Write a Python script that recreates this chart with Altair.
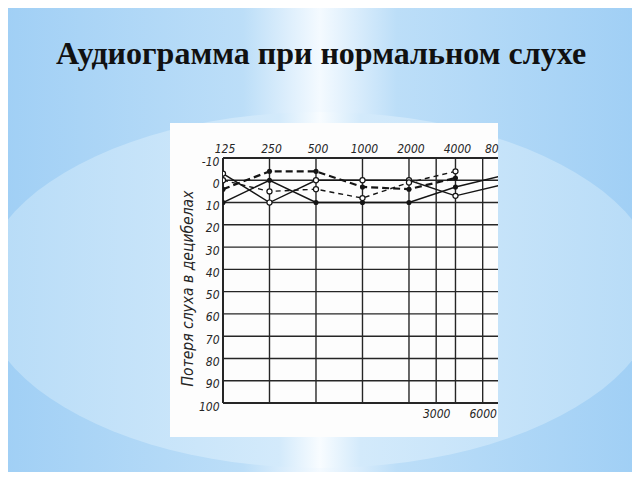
import math
import altair as alt
import pandas as pd

# ---------------- data ----------------
title_text = "Аудиограмма при нормальном слухе"
y_title = "Потеря слуха в децибелах"

freqs = [125, 250, 500, 1000, 2000, 4000, 8000]
solid_filled = [10, 0, 10, 10, 10, 3, -2]
solid_open = [-3, 10, 0, 0, 0, 7, 2]
dash_filled = [4, -4, -4, 3, 4, -1]
dash_open = [0, 5, 4, 8, 1, -4]

top_ticks = [125, 250, 500, 1000, 2000, 4000]
cut_tick = [8000]
bottom_ticks = [3000, 6000]
grid_freqs = [125, 250, 500, 1000, 2000, 3000, 4000, 6000]
db_ticks = [-10, 0, 10, 20, 30, 40, 50, 60, 70, 80, 90, 100]
x_domain = [125, 7540]  # the scanned picture is cut just before 8000 Hz
y_domain = [-10, 100]

# ---------------- layout ----------------
W, H = 275, 245
PL, PT = 215, 150
PR = 624 - PL - W
PB = 464 - PT - H
OX, OY = 8 + PL, 8 + PT


def px(x):
    return x - OX


def py(y):
    return y - OY


bg_grad = {
    "gradient": "linear", "x1": 0, "y1": 0, "x2": 1, "y2": 0,
    "stops": [
        {"offset": 0, "color": "#a0cff5"},
        {"offset": 0.38, "color": "#bcdef8"},
        {"offset": 0.5, "color": "#f4faff"},
        {"offset": 0.62, "color": "#bcdef8"},
        {"offset": 1, "color": "#a0cff5"},
    ],
}
ell_edge, ell_mid = "#b6dbf7", "#d3eafb"
ell_grad = {
    "gradient": "linear", "x1": 0, "y1": 0, "x2": 1, "y2": 0,
    "stops": [
        {"offset": 0, "color": ell_edge},
        {"offset": 0.44, "color": ell_mid},
        {"offset": 0.5, "color": "#f8fcff"},
        {"offset": 0.56, "color": ell_mid},
        {"offset": 1, "color": ell_edge},
    ],
}
ECX, ECY, EA, EB = 320, 290, 340, 178
pts = []
for i in range(96):
    t = 2 * math.pi * i / 96
    pts.append("%.4f %.4f" % (math.cos(t), math.sin(t) * EB / EA))
ellipse_path = "M " + " L ".join(pts) + " Z"

LABEL_FONT = "Liberation Sans Narrow, DejaVu Sans Condensed, sans-serif"
INK = "#262626"

xs = alt.Scale(type="log", base=2, domain=x_domain, nice=False)
ys = alt.Scale(domain=y_domain, reverse=True, nice=False, zero=False)

deco = pd.DataFrame({"k": [0]})

bg = alt.Chart(deco).mark_rect(fill=bg_grad, strokeWidth=0).encode(
    x=alt.value(px(0)), x2=alt.value(px(640)),
    y=alt.value(py(0)), y2=alt.value(py(480)))

ellipse = alt.Chart(deco).mark_point(
    shape=ellipse_path, size=(2 * EA) ** 2, filled=True, fill=ell_grad,
    opacity=1, strokeWidth=0).encode(x=alt.value(px(ECX)), y=alt.value(py(ECY)))

white_box = alt.Chart(deco).mark_rect(fill="#fdfdfd", strokeWidth=0).encode(
    x=alt.value(px(170)), x2=alt.value(px(498)),
    y=alt.value(py(123)), y2=alt.value(py(437)))

title = alt.Chart(pd.DataFrame({"t": [title_text]})).mark_text(
    font="Liberation Serif", fontSize=32, fontWeight="bold", color="#111111",
    align="center", baseline="alphabetic").encode(
    x=alt.value(px(321)), y=alt.value(py(64)), text="t:N")

vgrid = alt.Chart(pd.DataFrame({"f": grid_freqs})).mark_rule(color=INK).encode(
    x=alt.X("f:Q", scale=xs, axis=alt.Axis(
        orient="bottom", values=bottom_ticks, format="d", grid=False, domain=False,
        ticks=False, labelPadding=5, labelFont=LABEL_FONT, labelFontSize=12,
        labelFontStyle="italic", labelColor=INK, title=None, zindex=1)),
    strokeWidth=alt.condition("datum.f == 125", alt.value(2.0), alt.value(1.4)))

hgrid = alt.Chart(pd.DataFrame({"db": db_ticks})).mark_rule(color=INK).encode(
    y=alt.Y("db:Q", scale=ys, axis=alt.Axis(
        orient="left", values=db_ticks, labelExpr="'' + datum.value",
        grid=False, domain=False,
        ticks=False, labelPadding=4, labelOffset=3, labelFont=LABEL_FONT,
        labelFontSize=12, labelFontStyle="italic", labelColor=INK,
        title=y_title, titleFont=LABEL_FONT, titleFontSize=15.5,
        titleFontStyle="italic", titleFontWeight="normal", titleColor=INK,
        titleAngle=270, titleX=-36, titleY=130, titleAlign="center",
        titleBaseline="middle", zindex=1)),
    strokeWidth=alt.condition("datum.db == -10 || datum.db == 100",
                              alt.value(2.0), alt.value(1.4)))

top_labels = alt.Chart(pd.DataFrame({"f": top_ticks})).mark_text(
    font=LABEL_FONT, fontSize=12, fontStyle="italic", color=INK,
    align="center", baseline="alphabetic", dx=2).encode(
    x=alt.X("f:Q", scale=xs, axis=None), y=alt.value(-5),
    text=alt.Text("f:Q", format="d"))

cut_label = alt.Chart(pd.DataFrame({"f": cut_tick})).mark_text(
    font=LABEL_FONT, fontSize=12, fontStyle="italic", color=INK,
    align="left", baseline="alphabetic", dx=-17, limit=14,
    ellipsis="\u200b").encode(
    x=alt.X("f:Q", scale=xs, axis=None), y=alt.value(-5),
    text=alt.Text("f:Q", format="d"))

series = [
    ("solid_filled", solid_filled, [], 1.5, True),
    ("solid_open", solid_open, [], 1.4, False),
    ("dash_filled", dash_filled, [7, 4], 2.2, True),
    ("dash_open", dash_open, [5, 4], 1.4, False),
]
data_layers = []
for name, vals, dash, sw, filled in series:
    df = pd.DataFrame({"f": freqs[:len(vals)], "db": vals})
    base = alt.Chart(df).encode(
        x=alt.X("f:Q", scale=xs, axis=None),
        y=alt.Y("db:Q", scale=ys, axis=None))
    line_kw = dict(color="#151515", strokeWidth=sw, clip=True)
    if dash:
        line_kw["strokeDash"] = dash
    data_layers.append(base.mark_line(**line_kw))
    if filled:
        data_layers.append(base.mark_circle(color="#151515", size=26, opacity=1,
                                            clip=True))
    else:
        data_layers.append(base.mark_circle(fill="white", stroke="#151515",
                                            strokeWidth=1.2, size=26, opacity=1,
                                            clip=True))

chart = alt.layer(
    bg, ellipse, white_box, title, vgrid, hgrid, top_labels, cut_label, *data_layers
).resolve_axis(x="independent", y="independent").properties(
    width=W, height=H,
    autosize=alt.AutoSizeParams(type="none"),
    padding={"left": PL, "top": PT, "right": PR, "bottom": PB},
).configure_view(strokeWidth=0).configure(background="#ffffff")

chart.save("out.html", embed_options={"renderer": "svg", "actions": False})
